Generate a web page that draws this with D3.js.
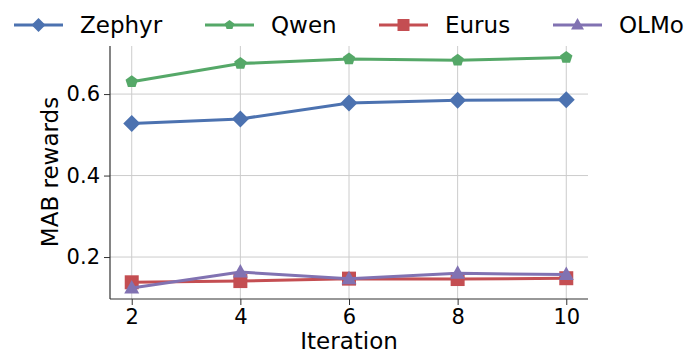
<!DOCTYPE html>
<html><head><meta charset="utf-8">
<script src="https://cdn.jsdelivr.net/npm/d3@7"></script>
<style>body{margin:0;background:#fff}svg{display:block}text{font-family:"DejaVu Sans",sans-serif;fill:#000}</style>
</head><body><svg id="c" width="698" height="361"></svg>
<script>
const iterations = [2, 4, 6, 8, 10];
const seriesNames = ["Zephyr", "Qwen", "Eurus", "OLMo"];
const zephyr = [0.528, 0.539, 0.578, 0.585, 0.586];
const qwen = [0.630, 0.675, 0.686, 0.683, 0.690];
const eurus = [0.138, 0.141, 0.147, 0.146, 0.148];
const olmo = [0.124, 0.163, 0.147, 0.160, 0.157];
const yTicks = [0.2, 0.4, 0.6];
const colors = ["#4C72B0", "#55A868", "#C44E52", "#8172B2"];
const symbols = ["diamond", "pentagon", "square", "triangle"];
const values = [zephyr, qwen, eurus, olmo];

const svg = d3.select("#c");
const m = {l:110, r:588, t:46, b:299};
const x = d3.scaleLinear().domain([1.6, 10.4]).range([m.l, m.r]);
const y = d3.scaleLinear().domain([0.097, 0.718]).range([m.b, m.t]);

// grid
svg.append("g").selectAll("line").data(iterations).join("line")
  .attr("x1", d=>x(d)).attr("x2", d=>x(d)).attr("y1", m.t).attr("y2", m.b)
  .attr("stroke", "#cccccc").attr("stroke-width", 1);
svg.append("g").selectAll("line").data(yTicks).join("line")
  .attr("x1", m.l).attr("x2", m.r).attr("y1", d=>y(d)).attr("y2", d=>y(d))
  .attr("stroke", "#cccccc").attr("stroke-width", 1);

// axes
const xa = svg.append("g").attr("transform", `translate(0,${m.b})`)
  .call(d3.axisBottom(x).tickValues(iterations).tickSize(6).tickPadding(4).tickFormat(d3.format("d")));
const ya = svg.append("g").attr("transform", `translate(${m.l},0)`)
  .call(d3.axisLeft(y).tickValues(yTicks).tickSize(6).tickPadding(4).tickFormat(d3.format(".1f")));
[xa, ya].forEach(a => {
  a.select(".domain").remove();
  a.selectAll("line").attr("stroke", "#333").attr("stroke-width", 1);
  a.selectAll("text").attr("font-size", 21).attr("font-family", "DejaVu Sans").attr("fill", "#000");
});
svg.append("line").attr("x1", m.l).attr("x2", m.l).attr("y1", m.t).attr("y2", m.b).attr("stroke", "#333").attr("stroke-width", 1.2);
svg.append("line").attr("x1", m.l).attr("x2", m.r).attr("y1", m.b).attr("y2", m.b).attr("stroke", "#333").attr("stroke-width", 1.2);

svg.append("text").attr("x", (m.l+m.r)/2).attr("y", 349).attr("text-anchor", "middle").attr("font-size", 23).text("Iteration");
svg.append("text").attr("transform", "translate(58,172) rotate(-90)").attr("text-anchor", "middle").attr("font-size", 23).text("MAB rewards");

function pentagon(r) {
  const pts = d3.range(5).map(i => { const a = -Math.PI/2 + i*2*Math.PI/5; return [r*Math.cos(a), r*Math.sin(a)]; });
  return "M" + pts.map(p=>p.join(",")).join("L") + "Z";
}
function markerPath(i) {
  const s = symbols[i];
  if (s === "pentagon") return pentagon(6.5);
  if (s === "diamond") return "M0,-8.5L8.5,0L0,8.5L-8.5,0Z";
  if (s === "square") return "M-7,-7H7V7H-7Z";
  return "M0,-8L7.5,5.5L-7.5,5.5Z";
}

const line = d3.line().x((d,i)=>x(iterations[i])).y(d=>y(d));
values.forEach((vals, si) => {
  const g = svg.append("g");
  g.append("path").datum(vals).attr("d", line).attr("fill", "none")
    .attr("stroke", colors[si]).attr("stroke-width", 3);
  g.selectAll("path.m").data(vals).join("path").attr("class", "m")
    .attr("transform", (d,i)=>`translate(${x(iterations[i])},${y(d)})`)
    .attr("d", markerPath(si)).attr("fill", colors[si]);
});

// legend
svg.append("rect").attr("x", 0).attr("y", 0).attr("width", 698).attr("height", 44).attr("fill", "#fff");
const legX = [14, 205, 379, 553];
seriesNames.forEach((n, i) => {
  const g = svg.append("g").attr("transform", `translate(${legX[i]},25)`);
  g.append("line").attr("x1", 0).attr("x2", 49).attr("stroke", colors[i]).attr("stroke-width", 3);
  const mp = i===0 ? "M0,-7L7,0L0,7L-7,0Z" : i===1 ? pentagon(5) : i===2 ? "M-6,-6H6V6H-6Z" : "M0,-7L6.5,4.5L-6.5,4.5Z";
  g.append("path").attr("transform", "translate(24.5,0)").attr("d", mp).attr("fill", colors[i]);
  g.append("text").attr("x", 66).attr("y", 8).attr("font-size", 23).text(n);
});
</script></body></html>
